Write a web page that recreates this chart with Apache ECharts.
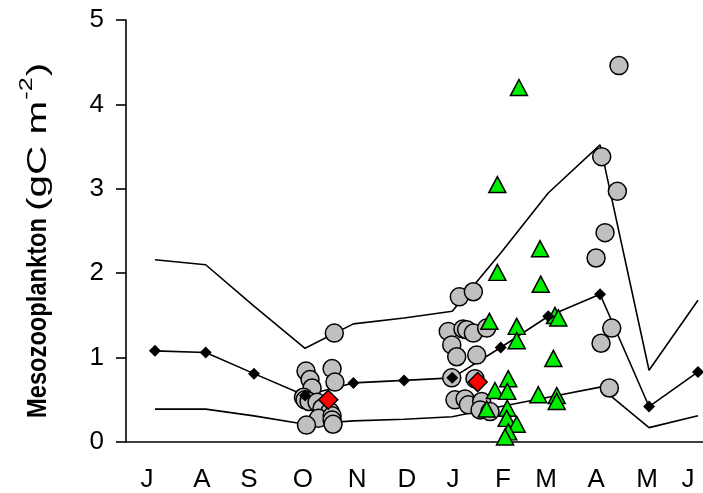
<!DOCTYPE html>
<html>
<head>
<meta charset="utf-8">
<script src="https://cdn.jsdelivr.net/npm/echarts@6/dist/echarts.min.js"></script>
<style>html,body{margin:0;padding:0;background:#fff}#c{width:703px;height:493px}</style>
</head>
<body>
<div id="c"></div>
<script>
// x unit: days from the left edge of the plot
var tickPositions = [13.1, 47.5, 76.9, 110.6, 144.4, 175.6, 204.4, 235.6, 262.5, 293.8, 325.6, 351.3];
var tickLabels = ['J', 'A', 'S', 'O', 'N', 'D', 'J', 'F', 'M', 'A', 'M', 'J'];

var monthX = [18.1, 49.8, 80, 111.9, 142.1, 173.8, 203.9, 234.2, 263.9, 296.3, 326.9, 357.5];
var medianY = [1.08, 1.06, 0.81, 0.55, 0.70, 0.73, 0.76, 1.12, 1.49, 1.75, 0.42, 0.83];
var upperY  = [2.16, 2.10, 1.61, 1.11, 1.40, 1.47, 1.55, 2.24, 2.95, 3.52, 0.85, 1.68];
var lowerY  = [0.39, 0.39, 0.31, 0.21, 0.25, 0.27, 0.30, 0.42, 0.53, 0.65, 0.17, 0.31];

var circles = [
  [130.2, 1.29], [112.5, 0.84], [128.8, 0.87], [115.0, 0.74], [116.3, 0.64], [130.6, 0.71],
  [110.9, 0.53], [111.9, 0.50], [114.4, 0.48], [119.4, 0.47], [122.5, 0.40], [127.5, 0.36],
  [120.3, 0.28], [112.8, 0.20], [128.8, 0.31], [128.8, 0.26], [129.4, 0.21],
  [208.3, 1.72], [217.1, 1.78], [201.4, 1.31], [210.6, 1.34], [212.9, 1.33], [217.1, 1.29],
  [225.4, 1.35], [203.6, 1.15], [206.7, 1.01], [219.2, 1.03], [203.6, 0.76], [218.1, 0.75],
  [205.6, 0.50], [211.9, 0.51], [214.0, 0.44], [222.3, 0.48], [221.3, 0.38], [227.5, 0.36],
  [308.1, 4.46], [297.3, 3.38], [307.1, 2.97], [299.4, 2.48], [293.8, 2.18], [303.6, 1.35],
  [296.9, 1.17], [302.1, 0.64]
];

var triangles = [
  [245.6, 4.20], [232.1, 3.05], [258.8, 2.29], [232.1, 2.01], [259.2, 1.87], [227.1, 1.43],
  [244.2, 1.37], [244.2, 1.20], [267.1, 0.99], [268.1, 1.50], [270.2, 1.47], [238.9, 0.75],
  [230.6, 0.61], [238.3, 0.60], [257.7, 0.56], [269.2, 0.55], [269.2, 0.48], [225.4, 0.39],
  [238.3, 0.40], [237.9, 0.28], [244.2, 0.21], [238.9, 0.12], [236.9, 0.06]
];

var redDiamonds = [[126.4, 0.50], [219.8, 0.71]];

var titleParts = ['Mesozooplankton', '(gC m', '-2', ')'];

function zip(xs, ys) { return xs.map(function (x, i) { return [x, ys[i]]; }); }

var FONT = '"Liberation Sans", Arial, sans-serif';

// ---- Y-axis title (rotated group; local x runs up the page, local y to the right) ----
var partFonts = ['bold 23px "Liberation Sans"', '27px "Liberation Sans"', '18px "Liberation Sans"', '27px "Liberation Sans"'];
var partScaleX = [1.03, 1.5, 1.4, 1.5];
var partScaleY = [1.2, 1.05, 1.05, 1.05];
var partDy = [0, 0, -11, 0];
var partGap = [0, 7, 1, 1];
var mctx = document.createElement('canvas').getContext('2d');
var titleChildren = [];
var off = 0;
titleParts.forEach(function (t, i) {
  mctx.font = partFonts[i];
  var w = mctx.measureText(t).width * partScaleX[i];
  off += partGap[i];
  titleChildren.push({
    type: 'text', x: off, y: partDy[i], scaleX: partScaleX[i], scaleY: partScaleY[i],
    style: {text: t, font: partFonts[i], fill: '#000', align: 'left', verticalAlign: 'middle'}
  });
  off += w;
});

var chart = echarts.init(document.getElementById('c'), null, {renderer: 'canvas'});
var lineStyle = {color: '#000', width: 1.6};

chart.setOption({
  animation: false,
  backgroundColor: '#fff',
  grid: {left: 126, right: 0, top: 20, bottom: 51, containLabel: false},
  graphic: [{
    type: 'group',
    x: 38, y: 418,
    rotation: Math.PI / 2,
    children: titleChildren
  }],
  xAxis: {
    type: 'value', min: 0, max: 360.625,
    axisLine: {show: true, onZero: false, lineStyle: {color: '#000', width: 1.6}},
    axisTick: {show: false},
    splitLine: {show: false},
    axisLabel: {
      customValues: tickPositions,
      margin: 25,
      fontSize: 26, fontFamily: FONT, color: '#000',
      formatter: function (v) {
        var i = tickPositions.indexOf(v);
        return i >= 0 ? tickLabels[i] : '';
      }
    }
  },
  yAxis: {
    type: 'value', min: 0, max: 5, interval: 1,
    axisLine: {show: true, lineStyle: {color: '#000', width: 1.6}},
    axisTick: {show: true, length: 10, lineStyle: {color: '#000', width: 1.6}},
    splitLine: {show: false},
    axisLabel: {margin: 22, fontSize: 26, fontFamily: FONT, color: '#000'}
  },
  series: [
    {type: 'line', data: zip(monthX, upperY), showSymbol: false, symbol: 'none', lineStyle: lineStyle, z: 1, silent: true},
    {type: 'line', data: zip(monthX, lowerY), showSymbol: false, symbol: 'none', lineStyle: lineStyle, z: 1, silent: true},
    {type: 'line', data: zip(monthX, medianY), showSymbol: false, symbol: 'none', lineStyle: lineStyle, z: 1, silent: true},
    {type: 'scatter', data: circles, symbol: 'circle', symbolSize: 18,
      itemStyle: {color: '#c0c0c0', borderColor: '#000', borderWidth: 1.5, opacity: 1}, z: 2},
    {type: 'scatter', data: triangles, symbol: 'triangle', symbolSize: [17, 16],
      itemStyle: {color: '#00ee00', borderColor: '#000', borderWidth: 1.5, opacity: 1}, z: 3},
    {type: 'scatter', data: zip(monthX, medianY), symbol: 'diamond', symbolSize: 12,
      itemStyle: {color: '#000', borderColor: '#000', borderWidth: 0, opacity: 1}, z: 4},
    {type: 'scatter', data: redDiamonds, symbol: 'diamond', symbolSize: 19,
      itemStyle: {color: '#ff0000', borderColor: '#000', borderWidth: 1.5, opacity: 1}, z: 5}
  ]
});
</script>
</body>
</html>
